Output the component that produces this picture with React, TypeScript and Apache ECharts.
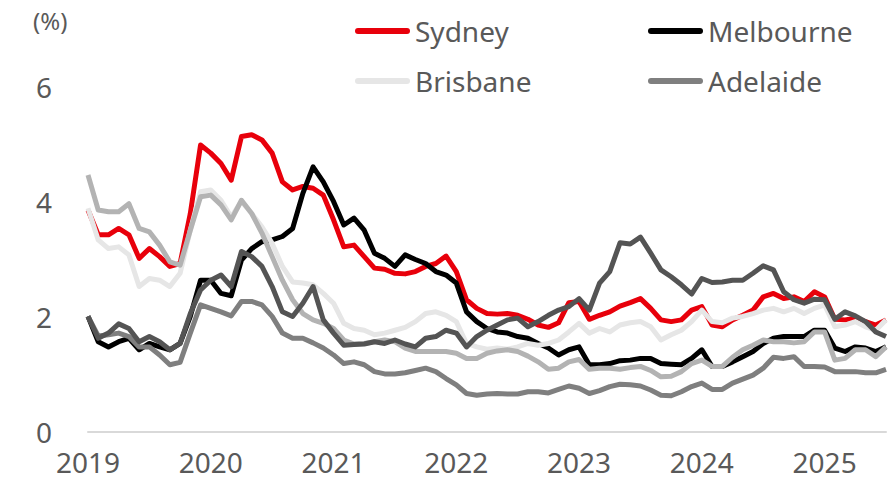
import React, { useEffect, useRef } from "react";
import * as echarts from "echarts";

const years = ["2019", "2020", "2021", "2022", "2023", "2024", "2025"];
const monthsInLastYear = 7;

const sydney = [3.86,3.43,3.43,3.54,3.43,3.02,3.19,3.05,2.88,2.93,3.80,4.99,4.85,4.67,4.38,5.14,5.17,5.08,4.85,4.35,4.21,4.27,4.24,4.12,3.69,3.22,3.25,3.05,2.85,2.83,2.76,2.75,2.79,2.88,2.93,3.06,2.79,2.30,2.15,2.06,2.05,2.06,2.03,1.96,1.86,1.82,1.90,2.25,2.27,1.96,2.03,2.09,2.19,2.25,2.32,2.15,1.95,1.92,1.95,2.12,2.18,1.86,1.83,1.95,2.03,2.12,2.35,2.41,2.32,2.35,2.27,2.44,2.35,1.96,1.95,1.98,1.92,1.86,1.95];
const melbourne = [2.01,1.57,1.48,1.57,1.63,1.43,1.54,1.48,1.43,1.54,2.01,2.64,2.64,2.41,2.37,2.99,3.19,3.31,3.34,3.40,3.54,4.15,4.61,4.35,4.01,3.60,3.72,3.51,3.11,3.02,2.88,3.08,3.00,2.93,2.79,2.73,2.59,2.09,1.92,1.80,1.74,1.72,1.66,1.63,1.54,1.46,1.34,1.43,1.48,1.17,1.17,1.19,1.24,1.25,1.28,1.28,1.19,1.18,1.17,1.28,1.43,1.14,1.14,1.22,1.31,1.40,1.54,1.63,1.66,1.66,1.66,1.77,1.77,1.46,1.40,1.48,1.46,1.40,1.48];
const brisbane = [3.89,3.34,3.19,3.22,3.08,2.53,2.67,2.64,2.53,2.76,3.51,4.18,4.21,4.03,3.74,4.01,3.80,3.57,3.28,2.88,2.61,2.59,2.56,2.41,2.24,1.89,1.80,1.77,1.69,1.72,1.77,1.82,1.92,2.06,2.09,2.03,1.92,1.54,1.48,1.44,1.46,1.44,1.48,1.54,1.51,1.54,1.60,1.74,1.89,1.72,1.80,1.74,1.86,1.90,1.92,1.83,1.60,1.69,1.77,1.92,2.12,1.92,1.90,1.98,2.01,2.06,2.12,2.15,2.09,2.15,2.06,2.15,2.21,1.83,1.86,1.92,1.83,1.77,1.95];
const adelaide = [2.01,1.67,1.69,1.72,1.66,1.48,1.48,1.34,1.17,1.21,1.72,2.21,2.15,2.09,2.02,2.27,2.27,2.21,2.01,1.72,1.63,1.63,1.55,1.46,1.34,1.19,1.22,1.17,1.05,1.01,1.01,1.03,1.07,1.11,1.05,0.93,0.82,0.67,0.64,0.66,0.67,0.66,0.66,0.70,0.70,0.68,0.74,0.80,0.76,0.67,0.72,0.79,0.83,0.82,0.80,0.73,0.64,0.63,0.70,0.79,0.85,0.74,0.74,0.85,0.92,0.99,1.11,1.30,1.28,1.31,1.14,1.14,1.13,1.05,1.05,1.05,1.03,1.03,1.09];
const cityE = [4.47,3.86,3.83,3.83,3.97,3.54,3.48,3.25,2.96,2.90,3.51,4.09,4.12,3.95,3.69,4.03,3.80,3.46,3.05,2.64,2.30,2.06,1.95,1.89,1.80,1.60,1.53,1.54,1.57,1.60,1.57,1.46,1.40,1.40,1.40,1.40,1.37,1.28,1.28,1.37,1.41,1.43,1.40,1.32,1.22,1.09,1.11,1.22,1.26,1.09,1.11,1.11,1.09,1.12,1.14,1.07,0.96,0.97,1.05,1.19,1.25,1.14,1.14,1.30,1.43,1.51,1.60,1.57,1.57,1.55,1.57,1.74,1.74,1.25,1.28,1.43,1.43,1.31,1.48];
const cityF = [2.01,1.63,1.72,1.88,1.80,1.57,1.66,1.57,1.43,1.54,2.06,2.47,2.64,2.73,2.53,3.14,3.05,2.88,2.53,2.09,2.01,2.24,2.53,1.95,1.72,1.51,1.52,1.53,1.57,1.54,1.60,1.53,1.48,1.63,1.66,1.77,1.72,1.48,1.66,1.77,1.86,1.95,1.98,1.83,1.92,2.03,2.12,2.18,2.32,2.12,2.59,2.79,3.29,3.27,3.39,3.11,2.82,2.70,2.56,2.40,2.67,2.60,2.61,2.64,2.64,2.76,2.89,2.82,2.44,2.30,2.24,2.31,2.30,1.96,2.09,2.02,1.92,1.74,1.66];

const categories: string[] = [];
years.forEach((y, i) => {
  const n = i === years.length - 1 ? monthsInLastYear : 12;
  for (let m = 1; m <= n; m++) categories.push(`${y}-${String(m).padStart(2, "0")}`);
});

const FONT = "'Noto Sans', sans-serif";
const TXT = "#595959";
const legendIcon = "path://M3,0 L52,0 A3,3 0 0 1 52,6 L3,6 A3,3 0 0 1 3,0 Z";

export default function App() {
  const ref = useRef<HTMLDivElement>(null);
  useEffect(() => {
    if (!ref.current) return;
    const chart = echarts.init(ref.current, undefined, { renderer: "svg" });
    const mk = (name: string, data: number[], color: string) => ({
      name,
      type: "line",
      data,
      symbol: "none",
      lineStyle: { color, width: 5, join: "round" },
      itemStyle: { color },
    });
    const legendItem = (name: string, left: number, top: number) => ({
      show: true,
      left,
      top,
      data: [name],
      icon: legendIcon,
      itemWidth: 55,
      itemHeight: 6,
      selectedMode: false,
      padding: 0,
      textStyle: { fontFamily: FONT, fontSize: 28, color: TXT, padding: [0, 0, 0, 0] },
    });
    chart.setOption({
      animation: false,
      backgroundColor: "#ffffff",
      grid: { left: 88, right: 4, top: 87, bottom: 56, containLabel: false },
      legend: [
        legendItem("Sydney", 355, 17),
        legendItem("Melbourne", 648, 17),
        legendItem("Brisbane", 355, 67),
        legendItem("Adelaide", 648, 67),
      ],
      graphic: [
        {
          type: "text",
          left: 33,
          top: 8,
          style: { text: "(%)", fontFamily: FONT, fontSize: 24, fill: TXT },
        },
      ],
      xAxis: {
        type: "category",
        data: categories,
        boundaryGap: false,
        axisLine: { lineStyle: { color: "#d9d9d9", width: 2 } },
        axisTick: { show: false },
        axisLabel: {
          interval: (i: number) => i % 12 === 0,
          formatter: (v: string) => v.slice(0, 4),
          fontFamily: FONT,
          fontSize: 28,
          color: TXT,
          margin: 16,
        },
        splitLine: { show: false },
      },
      yAxis: {
        type: "value",
        min: 0,
        max: 6,
        interval: 2,
        axisLine: { show: false },
        axisTick: { show: false },
        splitLine: { show: false },
        axisLabel: { fontFamily: FONT, fontSize: 28, color: TXT, margin: 36 },
      },
      series: [
        mk("Sydney", sydney, "#e8000b"),
        mk("Melbourne", melbourne, "#000000"),
        mk("Brisbane", brisbane, "#e6e6e6"),
        mk("Adelaide", adelaide, "#7f7f7f"),
        mk("Perth", cityE, "#b3b3b3"),
        mk("Hobart", cityF, "#545454"),
      ],
    });
    return () => chart.dispose();
  }, []);
  return <div ref={ref} style={{ width: 890, height: 488, position: "absolute", left: 0, top: 0 }} />;
}
